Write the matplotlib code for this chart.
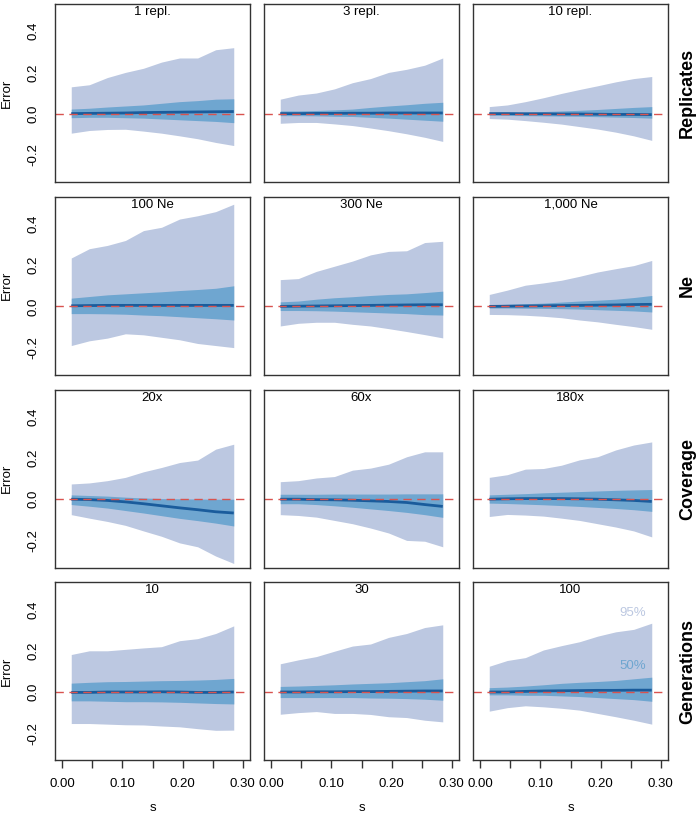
import numpy as np
import matplotlib
matplotlib.use("Agg")
import matplotlib.pyplot as plt

plt.rcParams['font.family'] = ['Liberation Sans', 'DejaVu Sans']
plt.rcParams['axes.unicode_minus'] = False

# selection coefficients (x)
s = [0.015, 0.045, 0.075, 0.105, 0.135, 0.165, 0.195, 0.225, 0.255, 0.285]

row_labels = ["Replicates", "Ne", "Coverage", "Generations"]
titles = [["1 repl.", "3 repl.", "10 repl."],
          ["100 Ne", "300 Ne", "1,000 Ne"],
          ["20x", "60x", "180x"],
          ["10", "30", "100"]]

# --- Replicates ---
rep1_hi95 = [0.13, 0.14, 0.175, 0.20, 0.22, 0.25, 0.27, 0.27, 0.31, 0.32]
rep1_hi50 = [0.022, 0.026, 0.032, 0.037, 0.042, 0.05, 0.058, 0.063, 0.07, 0.072]
rep1_med = [0.0, 0.001, 0.002, 0.003, 0.005, 0.006, 0.007, 0.008, 0.009, 0.01]
rep1_lo50 = [-0.02, -0.018, -0.018, -0.02, -0.022, -0.026, -0.03, -0.034, -0.038, -0.044]
rep1_lo95 = [-0.095, -0.082, -0.077, -0.076, -0.085, -0.095, -0.108, -0.122, -0.14, -0.155]

rep3_hi95 = [0.07, 0.09, 0.10, 0.12, 0.15, 0.17, 0.20, 0.215, 0.235, 0.27]
rep3_hi50 = [0.013, 0.013, 0.015, 0.018, 0.022, 0.03, 0.037, 0.043, 0.05, 0.055]
rep3_med = [0.0, 0.0, 0.001, 0.001, 0.002, 0.002, 0.003, 0.003, 0.003, 0.003]
rep3_lo50 = [-0.01, -0.01, -0.011, -0.013, -0.014, -0.018, -0.022, -0.027, -0.032, -0.037]
rep3_lo95 = [-0.047, -0.043, -0.043, -0.05, -0.058, -0.07, -0.083, -0.098, -0.115, -0.135]

rep10_hi95 = [0.034, 0.042, 0.058, 0.077, 0.098, 0.117, 0.135, 0.154, 0.17, 0.18]
rep10_hi50 = [0.005, 0.006, 0.008, 0.01, 0.013, 0.016, 0.02, 0.025, 0.03, 0.034]
rep10_med = [0.0, 0.0, -0.001, -0.001, -0.002, -0.002, -0.003, -0.004, -0.004, -0.005]
rep10_lo50 = [-0.008, -0.009, -0.01, -0.011, -0.012, -0.013, -0.015, -0.017, -0.019, -0.022]
rep10_lo95 = [-0.024, -0.027, -0.034, -0.042, -0.051, -0.063, -0.075, -0.09, -0.108, -0.13]

# --- Ne ---
ne100_hi95 = [0.235, 0.28, 0.296, 0.32, 0.368, 0.384, 0.424, 0.44, 0.46, 0.496]
ne100_hi50 = [0.04, 0.048, 0.056, 0.061, 0.066, 0.071, 0.077, 0.082, 0.088, 0.10]
ne100_med = [0.003, 0.004, 0.005, 0.005, 0.005, 0.005, 0.005, 0.005, 0.005, 0.005]
ne100_lo50 = [-0.035, -0.035, -0.036, -0.038, -0.042, -0.045, -0.05, -0.055, -0.06, -0.066]
ne100_lo95 = [-0.19, -0.167, -0.154, -0.133, -0.138, -0.15, -0.162, -0.18, -0.19, -0.2]

ne300_hi95 = [0.13, 0.135, 0.17, 0.195, 0.22, 0.25, 0.267, 0.27, 0.31, 0.316]
ne300_hi50 = [0.022, 0.026, 0.035, 0.042, 0.047, 0.053, 0.058, 0.061, 0.067, 0.074]
ne300_med = [0.0, 0.001, 0.002, 0.003, 0.004, 0.005, 0.006, 0.007, 0.008, 0.008]
ne300_lo50 = [-0.02, -0.02, -0.021, -0.023, -0.026, -0.029, -0.032, -0.035, -0.04, -0.042]
ne300_lo95 = [-0.095, -0.082, -0.077, -0.077, -0.087, -0.095, -0.108, -0.122, -0.137, -0.153]

ne1000_hi95 = [0.058, 0.079, 0.103, 0.114, 0.127, 0.146, 0.167, 0.183, 0.198, 0.223]
ne1000_hi50 = [0.008, 0.01, 0.013, 0.016, 0.021, 0.026, 0.03, 0.035, 0.043, 0.053]
ne1000_med = [0.0, 0.001, 0.002, 0.003, 0.004, 0.005, 0.006, 0.007, 0.009, 0.01]
ne1000_lo50 = [-0.008, -0.008, -0.009, -0.01, -0.011, -0.013, -0.016, -0.019, -0.022, -0.027]
ne1000_lo95 = [-0.039, -0.04, -0.043, -0.048, -0.055, -0.066, -0.075, -0.087, -0.098, -0.111]

# --- Coverage ---
cov20_hi95 = [0.074, 0.079, 0.09, 0.106, 0.133, 0.154, 0.178, 0.19, 0.243, 0.267]
cov20_hi50 = [0.021, 0.018, 0.015, 0.01, 0.006, 0.003, 0.002, 0.001, 0.0, 0.0]
cov20_med = [0.0, -0.002, -0.006, -0.013, -0.022, -0.032, -0.042, -0.051, -0.061, -0.067]
cov20_lo50 = [-0.026, -0.034, -0.043, -0.055, -0.067, -0.08, -0.093, -0.104, -0.116, -0.13]
cov20_lo95 = [-0.075, -0.092, -0.108, -0.127, -0.154, -0.18, -0.212, -0.231, -0.276, -0.312]

cov60_hi95 = [0.085, 0.09, 0.103, 0.11, 0.141, 0.151, 0.17, 0.206, 0.23, 0.23]
cov60_hi50 = [0.024, 0.024, 0.024, 0.025, 0.025, 0.025, 0.025, 0.026, 0.026, 0.026]
cov60_med = [0.0, 0.0, -0.002, -0.003, -0.005, -0.008, -0.011, -0.016, -0.026, -0.035]
cov60_lo50 = [-0.022, -0.022, -0.026, -0.032, -0.039, -0.047, -0.055, -0.064, -0.075, -0.088]
cov60_lo95 = [-0.075, -0.079, -0.087, -0.103, -0.119, -0.14, -0.164, -0.2, -0.204, -0.231]

cov180_hi95 = [0.106, 0.119, 0.146, 0.149, 0.165, 0.191, 0.206, 0.239, 0.263, 0.278]
cov180_hi50 = [0.021, 0.024, 0.027, 0.031, 0.034, 0.037, 0.04, 0.043, 0.045, 0.047]
cov180_med = [0.0, 0.002, 0.003, 0.003, 0.003, 0.002, 0.0, -0.003, -0.006, -0.011]
cov180_lo50 = [-0.019, -0.021, -0.024, -0.027, -0.031, -0.035, -0.04, -0.045, -0.051, -0.059]
cov180_lo95 = [-0.084, -0.074, -0.077, -0.082, -0.092, -0.103, -0.119, -0.135, -0.154, -0.183]

# --- Generations ---
gen10_hi95 = [0.182, 0.2, 0.2, 0.207, 0.214, 0.22, 0.249, 0.259, 0.284, 0.321]
gen10_hi50 = [0.043, 0.047, 0.05, 0.051, 0.053, 0.055, 0.056, 0.058, 0.061, 0.066]
gen10_med = [-0.002, -0.002, 0.0, 0.0, 0.0, 0.001, 0.0, -0.002, -0.002, 0.0]
gen10_lo50 = [-0.043, -0.043, -0.045, -0.047, -0.047, -0.048, -0.05, -0.053, -0.056, -0.058]
gen10_lo95 = [-0.153, -0.153, -0.156, -0.159, -0.16, -0.165, -0.169, -0.178, -0.186, -0.185]

gen30_hi95 = [0.137, 0.156, 0.172, 0.198, 0.223, 0.233, 0.265, 0.284, 0.313, 0.326]
gen30_hi50 = [0.027, 0.029, 0.032, 0.035, 0.039, 0.042, 0.045, 0.05, 0.055, 0.064]
gen30_med = [0.0, 0.0, 0.001, 0.001, 0.002, 0.002, 0.003, 0.004, 0.005, 0.005]
gen30_lo50 = [-0.027, -0.027, -0.027, -0.027, -0.027, -0.029, -0.03, -0.032, -0.035, -0.04]
gen30_lo95 = [-0.108, -0.1, -0.095, -0.104, -0.104, -0.109, -0.12, -0.124, -0.137, -0.145]

gen100_hi95 = [0.125, 0.153, 0.167, 0.204, 0.225, 0.244, 0.271, 0.292, 0.304, 0.334]
gen100_hi50 = [0.021, 0.024, 0.029, 0.035, 0.042, 0.047, 0.051, 0.056, 0.064, 0.072]
gen100_med = [0.0, 0.0, 0.003, 0.005, 0.006, 0.007, 0.008, 0.008, 0.009, 0.009]
gen100_lo50 = [-0.014, -0.014, -0.016, -0.016, -0.019, -0.022, -0.027, -0.032, -0.037, -0.045]
gen100_lo95 = [-0.093, -0.076, -0.067, -0.072, -0.079, -0.088, -0.104, -0.12, -0.137, -0.156]

panels = [
    [(rep1_lo95, rep1_lo50, rep1_med, rep1_hi50, rep1_hi95),
     (rep3_lo95, rep3_lo50, rep3_med, rep3_hi50, rep3_hi95),
     (rep10_lo95, rep10_lo50, rep10_med, rep10_hi50, rep10_hi95)],
    [(ne100_lo95, ne100_lo50, ne100_med, ne100_hi50, ne100_hi95),
     (ne300_lo95, ne300_lo50, ne300_med, ne300_hi50, ne300_hi95),
     (ne1000_lo95, ne1000_lo50, ne1000_med, ne1000_hi50, ne1000_hi95)],
    [(cov20_lo95, cov20_lo50, cov20_med, cov20_hi50, cov20_hi95),
     (cov60_lo95, cov60_lo50, cov60_med, cov60_hi50, cov60_hi95),
     (cov180_lo95, cov180_lo50, cov180_med, cov180_hi50, cov180_hi95)],
    [(gen10_lo95, gen10_lo50, gen10_med, gen10_hi50, gen10_hi95),
     (gen30_lo95, gen30_lo50, gen30_med, gen30_hi50, gen30_hi95),
     (gen100_lo95, gen100_lo50, gen100_med, gen100_hi50, gen100_hi95)],
]

c95 = "#bcc8e1"
c50 = "#6fa6d0"
cmed = "#1a5c9c"
cred = "#d9534f"
cframe = "#333333"
fs = 9.5

fig = plt.figure(figsize=(7, 8.16), dpi=100)

lefts = [55, 264, 473]
tops = [4, 196.8, 389.6, 582.4]
w, h = 195, 178

for r in range(4):
    for c in range(3):
        ax = fig.add_axes([lefts[c] / 700, 1 - (tops[r] + h) / 816, w / 700, h / 816])
        lo95, lo50, med, hi50, hi95 = panels[r][c]
        ax.fill_between(s, lo95, hi95, color=c95, lw=0)
        ax.fill_between(s, lo50, hi50, color=c50, lw=0)
        ax.plot(s, med, color=cmed, lw=2.0, solid_capstyle='butt')
        ax.axhline(0, color=cred, lw=1.0, ls=(0, (6, 4)))
        ax.set_xlim(-0.012, 0.312)
        ax.set_ylim(-0.332, 0.532)
        for sp in ax.spines.values():
            sp.set_color(cframe)
            sp.set_linewidth(1.0)
        ax.text(0.5, 0.955, titles[r][c], transform=ax.transAxes,
                ha='center', va='center', fontsize=fs)

        ax.set_yticks([-0.2, 0.0, 0.2, 0.4])
        ax.set_xticks([0.0, 0.05, 0.10, 0.15, 0.20, 0.25, 0.30])
        if c == 0:
            ax.set_yticklabels(["-0.2", "0.0", "0.2", "0.4"], rotation=90, va='center')
            ax.tick_params(axis='y', length=0, pad=11, labelsize=fs)
            ax.set_ylabel("Error", fontsize=fs, labelpad=11)
        else:
            ax.tick_params(axis='y', left=False, labelleft=False)
        if r == 3:
            ax.set_xticklabels(["0.00", "", "0.10", "", "0.20", "", "0.30"])
            ax.tick_params(axis='x', length=6, width=1.0, color=cframe, pad=7, labelsize=fs)
            ax.set_xlabel("s", fontsize=fs, labelpad=8)
        else:
            ax.tick_params(axis='x', bottom=False, labelbottom=False)
        if c == 2:
            ax.text(1.10, 0.5, row_labels[r], transform=ax.transAxes, rotation=90,
                    ha='center', va='center', fontsize=13, fontweight='bold')
        if r == 3 and c == 2:
            ax.text(0.254, 0.384, "95%", color=c95, fontsize=fs, ha='center', va='center')
            ax.text(0.254, 0.124, "50%", color=c50, fontsize=fs, ha='center', va='center')

fig.savefig("out.png", dpi=100)
